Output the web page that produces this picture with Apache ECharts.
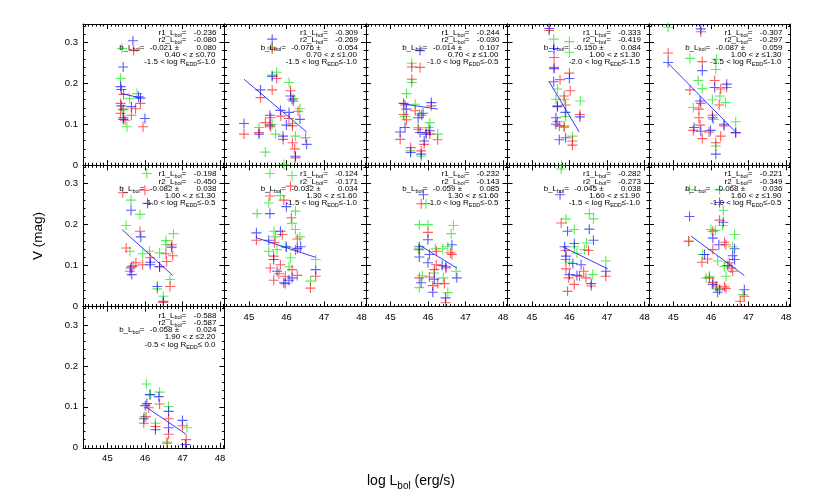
<!DOCTYPE html>
<html>
<head>
<meta charset="utf-8">
<title>V vs log Lbol</title>
<script src="https://cdn.jsdelivr.net/npm/echarts@6.0.0/dist/echarts.min.js"></script>
<style>
  html, body { margin: 0; padding: 0; background: #fff; }
  #chart { width: 830px; height: 499px; }
</style>
</head>
<body>
<div id="chart"></div>
<script>
// tick labels
var xMajor = [45, 46, 47, 48]
var yMajor = [0, 0.1, 0.2, 0.3]

// annotation values, one entry per panel
var r1Vals = ['-0.236', '-0.309', '-0.244', '-0.333', '-0.307', '-0.198', '-0.124', '-0.232', '-0.282', '-0.221', '-0.588']
var r2Vals = ['-0.080', '-0.269', '-0.030', '-0.419', '-0.297', '-0.450', '-0.171', '-0.143', '-0.273', '-0.349', '-0.587']
var bVals = ['-0.021', '-0.076', '-0.014', '-0.150', '-0.087', '-0.082', '-0.032', '-0.059', '-0.045', '-0.068', '-0.058']
var bErrs = ['0.080', '0.054', '0.107', '0.084', '0.059', '0.038', '0.034', '0.085', '0.038', '0.036', '0.024']
var zLow = ['0.40', '0.70', '0.70', '1.00', '1.00', '1.00', '1.30', '1.30', '1.60', '1.60', '1.90']
var zHigh = ['0.70', '1.00', '1.00', '1.30', '1.30', '1.30', '1.60', '1.60', '1.90', '1.90', '2.20']
var rLow = ['-1.5', '-1.5', '-1.0', '-2.0', '-1.5', '-1.0', '-1.5', '-1.0', '-1.5', '-1.0', '-0.5']
var rHigh = ['-1.0', '-1.0', '-0.5', '-1.5', '-1.0', '-0.5', '-1.0', '-0.5', '-1.0', '-0.5', ' 0.0']

// points [log Lbol, V]
var p1Red = [[45.70, 0.280], [45.43, 0.173], [45.88, 0.151], [45.35, 0.151], [45.75, 0.138], [45.43, 0.137], [45.35, 0.127], [45.64, 0.122], [45.47, 0.110], [45.95, 0.094]]
var p1Green = [[45.39, 0.285], [45.35, 0.212], [45.79, 0.175], [45.59, 0.163], [45.52, 0.094], [45.40, 0.135]]
var p1Blue = [[45.68, 0.304], [45.42, 0.240], [45.35, 0.192], [45.37, 0.185], [45.83, 0.167], [45.88, 0.164], [45.37, 0.145], [45.64, 0.143], [45.43, 0.116], [46.00, 0.114], [45.42, 0.112]]
var p1Fit = [[45.38, 0.175], [45.90, 0.164]]

var p2Red = [[45.62, 0.284], [45.74, 0.212], [45.62, 0.184], [46.11, 0.182], [45.31, 0.165], [46.15, 0.161], [46.31, 0.132], [45.85, 0.120], [45.58, 0.116], [46.07, 0.114], [45.44, 0.104], [45.58, 0.094], [46.16, 0.096], [45.27, 0.080], [44.87, 0.076], [45.91, 0.063], [46.51, 0.067], [46.16, 0.055], [46.22, 0.040], [46.24, 0.018]]
var p2Green = [[45.62, 0.288], [45.74, 0.227], [45.62, 0.220], [46.07, 0.202], [46.20, 0.163], [46.36, 0.138], [45.62, 0.100], [46.16, 0.102], [45.27, 0.092], [45.71, 0.076], [46.24, 0.071], [45.44, 0.032], [45.93, 0.002]]
var p2Blue = [[45.62, 0.308], [45.62, 0.217], [45.31, 0.184], [46.11, 0.169], [46.18, 0.157], [45.84, 0.134], [45.56, 0.122], [46.07, 0.129], [46.36, 0.112], [44.87, 0.102], [45.56, 0.098], [46.00, 0.098], [45.27, 0.076], [45.91, 0.071], [46.54, 0.051], [46.24, 0.022]]
var p2Fit = [[44.87, 0.210], [46.54, 0.081]]

var p3Red = [[45.57, 0.240], [45.79, 0.239], [45.57, 0.210], [45.39, 0.147], [46.09, 0.145], [45.66, 0.133], [45.35, 0.124], [45.83, 0.122], [45.43, 0.111], [45.74, 0.088], [45.26, 0.063], [45.95, 0.080], [46.05, 0.076], [46.26, 0.062], [45.90, 0.051], [45.54, 0.043], [45.82, 0.035]]
var p3Green = [[45.57, 0.249], [45.57, 0.202], [45.43, 0.175], [45.66, 0.149], [45.39, 0.119], [45.78, 0.125], [46.05, 0.104], [45.74, 0.092], [46.01, 0.092], [46.26, 0.076], [45.54, 0.035], [45.82, 0.022]]
var p3Blue = [[45.79, 0.280], [45.35, 0.151], [46.09, 0.153], [45.43, 0.137], [45.87, 0.127], [45.74, 0.116], [45.39, 0.092], [45.26, 0.081], [45.79, 0.080], [46.05, 0.084], [45.95, 0.076], [45.90, 0.059], [45.54, 0.031], [45.82, 0.027]]
var p3Fit = [[45.27, 0.151], [46.26, 0.137]]

var p4Red = [[45.46, 0.329], [45.59, 0.263], [45.59, 0.239], [46.00, 0.225], [45.75, 0.209], [46.02, 0.182], [45.86, 0.169], [45.68, 0.145], [45.90, 0.147], [46.28, 0.124], [45.68, 0.106], [45.73, 0.096], [45.86, 0.093], [46.08, 0.059], [46.08, 0.049]]
var p4Green = [[45.58, 0.308], [46.00, 0.302], [46.00, 0.276], [45.68, 0.186], [45.86, 0.161], [46.29, 0.157], [45.64, 0.161], [45.90, 0.119], [45.86, 0.096], [46.08, 0.071], [45.79, 0.000]]
var p4Blue = [[45.46, 0.334], [45.59, 0.285], [45.59, 0.236], [46.00, 0.212], [45.58, 0.204], [45.68, 0.143], [45.89, 0.129], [46.28, 0.118], [45.64, 0.116], [45.64, 0.100], [45.90, 0.067], [45.73, 0.062]]
var p4Fit = [[45.46, 0.204], [46.26, 0.081]]

var p5Red = [[45.73, 0.326], [44.86, 0.274], [45.77, 0.253], [46.10, 0.207], [46.42, 0.190], [46.26, 0.186], [45.44, 0.184], [46.22, 0.147], [45.73, 0.151], [45.68, 0.137], [46.04, 0.122], [45.68, 0.116], [46.35, 0.096], [45.71, 0.098], [45.53, 0.085], [45.95, 0.081], [46.66, 0.079], [46.26, 0.071], [46.13, 0.055], [45.77, 0.065]]
var p5Green = [[44.86, 0.337], [45.44, 0.261], [46.15, 0.259], [46.13, 0.234], [45.66, 0.207], [45.77, 0.187], [46.24, 0.169], [46.04, 0.160], [46.39, 0.153], [45.53, 0.141], [46.07, 0.112], [46.66, 0.106], [46.13, 0.047]]
var p5Blue = [[45.73, 0.333], [44.86, 0.251], [45.77, 0.231], [46.42, 0.198], [46.10, 0.190], [45.71, 0.157], [46.04, 0.116], [45.55, 0.092], [45.99, 0.085], [46.66, 0.080], [45.73, 0.083], [46.13, 0.027], [46.35, 0.100]]
var p5Fit = [[44.86, 0.249], [46.66, 0.081]]

var p6Red = [[45.41, 0.278], [46.00, 0.284], [45.87, 0.184], [46.72, 0.151], [45.50, 0.143], [46.56, 0.129], [46.74, 0.124], [46.14, 0.119], [46.58, 0.110], [45.76, 0.107], [45.94, 0.102], [45.65, 0.098], [45.60, 0.086], [46.39, 0.097], [46.67, 0.049], [46.49, 0.010]]
var p6Green = [[46.05, 0.325], [45.63, 0.260], [45.87, 0.225], [45.50, 0.198], [46.76, 0.178], [46.56, 0.161], [46.56, 0.151], [45.60, 0.135], [46.12, 0.135], [46.39, 0.131], [45.94, 0.129], [45.70, 0.100], [46.67, 0.066], [46.33, 0.043], [46.49, 0.025]]
var p6Blue = [[46.07, 0.252], [45.63, 0.235], [45.89, 0.170], [46.71, 0.145], [46.14, 0.108], [46.14, 0.102], [45.62, 0.094], [45.65, 0.078], [46.39, 0.097], [46.33, 0.049], [46.49, 0.013]]
var p6Fit = [[45.39, 0.188], [46.74, 0.076]]

var p7Red = [[46.11, 0.294], [45.56, 0.270], [45.93, 0.260], [46.13, 0.217], [45.89, 0.176], [45.20, 0.162], [46.29, 0.165], [45.68, 0.156], [46.24, 0.138], [45.66, 0.123], [46.78, 0.074], [45.57, 0.094], [45.84, 0.102], [46.15, 0.090], [45.80, 0.080], [45.97, 0.074], [46.29, 0.076], [45.66, 0.064], [45.97, 0.056], [46.64, 0.045]]
var p7Green = [[45.56, 0.325], [46.15, 0.320], [45.84, 0.271], [45.53, 0.253], [46.24, 0.233], [45.22, 0.227], [46.15, 0.203], [45.67, 0.184], [46.24, 0.188], [46.36, 0.170], [45.71, 0.170], [45.97, 0.147], [45.75, 0.139], [46.11, 0.119], [46.78, 0.115], [46.07, 0.097], [46.64, 0.062], [45.53, 0.135]]
var p7Blue = [[46.00, 0.244], [45.56, 0.227], [45.84, 0.184], [45.20, 0.180], [45.53, 0.162], [46.38, 0.146], [46.29, 0.142], [46.00, 0.145], [45.66, 0.115], [46.78, 0.090], [45.75, 0.086], [46.15, 0.070], [46.07, 0.064], [45.93, 0.058]]
var p7Fit = [[45.20, 0.168], [46.78, 0.120]]

var p8Red = [[45.82, 0.251], [46.00, 0.181], [45.77, 0.139], [46.64, 0.127], [46.60, 0.131], [46.23, 0.135], [46.22, 0.102], [46.48, 0.094], [46.17, 0.090], [45.77, 0.070], [46.04, 0.072], [46.26, 0.056], [46.13, 0.051], [46.44, 0.056], [46.47, 0.009]]
var p8Green = [[45.95, 0.251], [45.77, 0.200], [46.00, 0.200], [46.68, 0.198], [46.62, 0.178], [45.75, 0.141], [46.39, 0.141], [46.53, 0.146], [46.20, 0.141], [46.75, 0.086], [46.17, 0.082], [46.41, 0.070], [45.77, 0.046], [45.85, 0.075], [46.53, 0.034]]
var p8Blue = [[45.88, 0.273], [46.00, 0.163], [45.77, 0.146], [46.64, 0.151], [46.04, 0.127], [45.77, 0.121], [46.00, 0.107], [46.38, 0.100], [46.48, 0.097], [46.77, 0.070], [45.82, 0.058], [46.17, 0.067], [46.13, 0.035], [46.47, 0.021]]
var p8Fit = [[45.79, 0.149], [46.77, 0.094]]

var p9Red = [[45.78, 0.204], [46.51, 0.137], [45.90, 0.137], [45.90, 0.115], [46.97, 0.074], [45.91, 0.092], [46.38, 0.086], [45.98, 0.070], [46.27, 0.074], [46.44, 0.070], [46.13, 0.054], [46.58, 0.050], [45.95, 0.037]]
var p9Green = [[45.78, 0.336], [45.91, 0.214], [46.53, 0.227], [46.64, 0.214], [46.13, 0.188], [46.46, 0.155], [46.40, 0.139], [46.13, 0.146], [46.97, 0.111], [46.62, 0.078], [46.20, 0.130], [46.00, 0.108]]
var p9Blue = [[45.75, 0.273], [45.95, 0.184], [46.53, 0.189], [46.64, 0.162], [46.13, 0.154], [45.87, 0.146], [45.91, 0.123], [46.97, 0.086], [46.09, 0.105], [46.31, 0.102], [46.00, 0.078], [46.20, 0.076], [46.58, 0.056]]
var p9Fit = [[45.82, 0.146], [47.02, 0.092]]

var p10Red = [[46.23, 0.211], [46.05, 0.184], [46.36, 0.157], [46.40, 0.151], [46.05, 0.139], [45.91, 0.116], [45.76, 0.108], [46.49, 0.107], [46.54, 0.094], [46.58, 0.086], [45.96, 0.070], [46.05, 0.059], [46.14, 0.050], [46.36, 0.048], [46.40, 0.044], [46.89, 0.025], [46.78, 0.013], [45.41, 0.160]]
var p10Green = [[45.43, 0.285], [46.23, 0.285], [46.33, 0.235], [46.31, 0.198], [46.00, 0.188], [46.12, 0.186], [46.63, 0.176], [45.41, 0.159], [46.58, 0.146], [45.78, 0.127], [46.18, 0.111], [46.36, 0.098], [45.96, 0.074], [46.40, 0.074], [46.14, 0.045], [46.85, 0.029], [45.87, 0.070]]
var p10Blue = [[45.43, 0.220], [46.23, 0.254], [46.33, 0.206], [46.05, 0.167], [46.21, 0.151], [46.63, 0.141], [45.83, 0.127], [46.58, 0.124], [46.63, 0.115], [46.45, 0.100], [46.05, 0.054], [46.23, 0.041], [46.18, 0.035], [46.89, 0.041]]
var p10Fit = [[45.47, 0.172], [46.89, 0.076]]

var p11Red = [[46.39, 0.107], [46.10, 0.098], [46.63, 0.071], [45.97, 0.060], [46.28, 0.052], [47.00, 0.054], [46.63, 0.033], [47.10, 0.020], [46.59, 0.011], [46.03, 0.076]]
var p11Green = [[46.04, 0.156], [46.39, 0.136], [46.63, 0.101], [45.98, 0.076], [46.28, 0.060], [47.12, 0.049], [46.59, 0.014], [46.15, 0.130]]
var p11Blue = [[46.13, 0.130], [46.37, 0.125], [46.01, 0.103], [46.63, 0.089], [45.97, 0.071], [46.28, 0.044], [47.00, 0.067], [46.63, 0.049], [47.08, 0.008], [46.05, 0.108]]
var p11Fit = [[46.04, 0.099], [47.10, 0.033]]

var reds = [p1Red, p2Red, p3Red, p4Red, p5Red, p6Red, p7Red, p8Red, p9Red, p10Red, p11Red]
var greens = [p1Green, p2Green, p3Green, p4Green, p5Green, p6Green, p7Green, p8Green, p9Green, p10Green, p11Green]
var blues = [p1Blue, p2Blue, p3Blue, p4Blue, p5Blue, p6Blue, p7Blue, p8Blue, p9Blue, p10Blue, p11Blue]
var fits = [p1Fit, p2Fit, p3Fit, p4Fit, p5Fit, p6Fit, p7Fit, p8Fit, p9Fit, p10Fit, p11Fit]

;(function () {
  var FONT = 'Liberation Sans, Arial, Helvetica, sans-serif'
  var xMin = 44.35
  var xMax = 48.12
  var yMin = 0
  var yMax = 0.345
  var colLeft = [83, 224.5, 366, 507.5, 649]
  var rowTop = [24, 165.3, 306.6]
  var cellW = 141.5
  var cellH = 141.2
  var PLUS = 'path://M0,5L10,5M5,0L5,10'

  // minor ticks: 0.1 on x, 0.02 on y
  var xMinor = []
  for (var i = 444; i <= 481; i++) { if (i % 10) xMinor.push(i / 10) }
  var yMinor = []
  for (var j = 1; j <= 17; j++) { if (j % 5) yMinor.push(j / 50) }

  var grids = []
  var xAxes = []
  var yAxes = []
  var series = []
  var graphics = []

  function axisPair(dim, gi, pos, showLabel) {
    var isX = dim === 'x'
    var base = {
      gridIndex: gi,
      type: 'value',
      position: pos,
      min: isX ? xMin : yMin,
      max: isX ? xMax : yMax,
      splitLine: { show: false }
    }
    var major = Object.assign({}, base, {
      axisLine: { show: true, onZero: false, lineStyle: { color: '#000', width: 1 } },
      axisTick: { show: true, inside: true, length: 5, customValues: isX ? xMajor : yMajor, lineStyle: { color: '#000', width: 1 } },
      axisLabel: {
        show: showLabel,
        customValues: isX ? xMajor : yMajor,
        margin: isX ? 6 : 5,
        fontSize: 9.5,
        color: '#000',
        fontFamily: FONT,
        formatter: function (v) { return isX ? String(v) : (v === 0 ? '0' : Number(v).toFixed(1)) }
      }
    })
    var minor = Object.assign({}, base, {
      axisLine: { show: false, onZero: false },
      axisTick: { show: true, inside: true, length: 2.5, customValues: isX ? xMinor : yMinor, lineStyle: { color: '#000', width: 1 } },
      axisLabel: { show: false }
    })
    return [major, minor]
  }

  var RICH = {
    m: { fontSize: 8, lineHeight: 8.5, verticalAlign: 'top', fill: '#000', fontFamily: FONT },
    s: { fontSize: 5.5, lineHeight: 6, padding: [3.5, 0, 0, 0], verticalAlign: 'top', fill: '#000', fontFamily: FONT }
  }

  function note(x, y, text, align) {
    return {
      type: 'text', x: x, y: y, z: 100, silent: true,
      style: { text: text, rich: RICH, align: align || 'right', verticalAlign: 'middle', fill: '#000', fontSize: 8, fontFamily: FONT }
    }
  }

  for (var k = 0; k < reds.length; k++) {
    var row = Math.floor(k / 5)
    var col = k % 5
    var cellLeft = colLeft[col]
    var cellTop = rowTop[row]
    grids.push({ left: cellLeft, top: cellTop, width: cellW, height: cellH, containLabel: false })

    var xb = axisPair('x', k, 'bottom', k >= 6)
    var xt = axisPair('x', k, 'top', false)
    xAxes.push(xb[0], xt[0], xb[1], xt[1])
    var yl = axisPair('y', k, 'left', col === 0)
    var yr = axisPair('y', k, 'right', false)
    yAxes.push(yl[0], yr[0], yl[1], yr[1])

    var ai = k * 4
    var sets = [[greens[k], 'rgba(0,225,0,0.8)'], [reds[k], 'rgba(255,0,0,0.8)'], [blues[k], 'rgba(0,0,255,0.8)']]
    for (var s = 0; s < sets.length; s++) {
      series.push({
        type: 'scatter',
        xAxisIndex: ai,
        yAxisIndex: ai,
        data: sets[s][0],
        symbol: PLUS,
        symbolSize: 10,
        clip: false,
        silent: true,
        itemStyle: { color: 'transparent', borderColor: sets[s][1], borderWidth: 1.1 }
      })
    }
    series.push({
      type: 'line',
      xAxisIndex: ai,
      yAxisIndex: ai,
      data: fits[k],
      symbol: 'none',
      silent: true,
      lineStyle: { color: 'rgba(30,40,255,0.9)', width: 1 }
    })

    var R = cellLeft + cellW
    var y0 = cellTop + 9
    var dy = 7.3
    graphics.push(note(R - 38, y0, '{m|r1_L}{s|bol}{m|=}'))
    graphics.push(note(R - 8, y0, '{m|' + r1Vals[k] + '}'))
    graphics.push(note(R - 38, y0 + dy, '{m|r2_L}{s|bol}{m|=}'))
    graphics.push(note(R - 8, y0 + dy, '{m|' + r2Vals[k] + '}'))
    graphics.push(note(R - 80, y0 + 2 * dy, '{m|b_L}{s|bol}{m|=}'))
    graphics.push(note(R - 52, y0 + 2 * dy, '{m|' + bVals[k] + '}'))
    graphics.push(note(R - 47.5, y0 + 2 * dy, '{m|±}', 'center'))
    graphics.push(note(R - 8, y0 + 2 * dy, '{m|' + bErrs[k] + '}'))
    graphics.push(note(R - 9, y0 + 3 * dy, '{m|' + zLow[k] + ' < z ≤' + zHigh[k] + '}'))
    graphics.push(note(R - 9, y0 + 4 * dy, '{m|' + rLow[k] + ' < log R}{s|EDD}{m|≤' + rHigh[k] + '}'))
  }

  // axis titles
  graphics.push({
    type: 'text', x: 411, y: 482, silent: true,
    style: {
      text: '{a|log L}{b|bol}{a| (erg/s)}',
      align: 'center', verticalAlign: 'middle',
      rich: {
        a: { fontSize: 14, lineHeight: 15, verticalAlign: 'top', fill: '#000', fontFamily: FONT },
        b: { fontSize: 10, lineHeight: 10, padding: [7, 0, 0, 0], verticalAlign: 'top', fill: '#000', fontFamily: FONT }
      }
    }
  })
  graphics.push({
    type: 'text', x: 38, y: 236, rotation: Math.PI / 2, silent: true,
    style: { text: 'V (mag)', align: 'center', verticalAlign: 'middle', fontSize: 13.5, fill: '#000', fontFamily: FONT }
  })

  var chart = echarts.init(document.getElementById('chart'), null, { renderer: 'canvas' })
  chart.setOption({
    backgroundColor: '#fff',
    animation: false,
    grid: grids,
    xAxis: xAxes,
    yAxis: yAxes,
    series: series,
    graphic: graphics
  })
})()
</script>
</body>
</html>
